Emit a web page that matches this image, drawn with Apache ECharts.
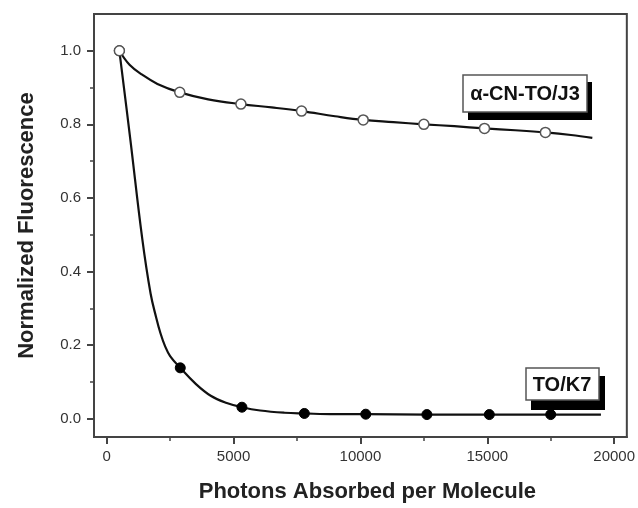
<!DOCTYPE html>
<html><head><meta charset="utf-8">
<script src="https://cdn.jsdelivr.net/npm/echarts@6/dist/echarts.min.js"></script>
<style>html,body{margin:0;padding:0;background:#fff}#c{width:638px;height:508px}</style>
</head><body><div id="c"></div>
<script>
// Measured points
const j3X = [500, 2880, 5290, 7680, 10110, 12500, 14890, 17290];
const j3Y = [1.0, 0.887, 0.855, 0.836, 0.812, 0.800, 0.789, 0.778];
const k7X = [500, 2900, 5330, 7790, 10210, 12620, 15080, 17500];
const k7Y = [1.0, 0.138, 0.031, 0.014, 0.012, 0.011, 0.011, 0.011];
// Fitted curves
const j3FitX = [500, 900, 1400, 2000, 2880, 4000, 5290, 6500, 7680, 9000, 10110, 11300, 12500, 13700, 14890, 16100, 17290, 18300, 19140];
const j3FitY = [1.0, 0.962, 0.935, 0.91, 0.887, 0.868, 0.855, 0.846, 0.836, 0.822, 0.812, 0.806, 0.800, 0.795, 0.789, 0.784, 0.778, 0.771, 0.763];
const k7FitX = [500, 930, 1400, 1730, 1950, 2120, 2300, 2500, 2900, 3500, 4100, 4700, 5330, 6050, 7000, 7790, 9000, 10210, 12620, 15080, 17500, 19480];
const k7FitY = [1.0, 0.76, 0.49, 0.34, 0.275, 0.232, 0.197, 0.17, 0.138, 0.095, 0.062, 0.043, 0.031, 0.022, 0.016, 0.014, 0.012, 0.012, 0.011, 0.011, 0.011, 0.011];
const xMajor = [0, 5000, 10000, 15000, 20000];
const xMinor = [2500, 7500, 12500, 17500];
const yMajor = [0, 0.2, 0.4, 0.6, 0.8, 1.0];
const yMinor = [0.1, 0.3, 0.5, 0.7, 0.9];
const labelJ3 = 'α-CN-TO/J3';
const labelK7 = 'TO/K7';

const zip = (a, b) => a.map((v, i) => [v, b[i]]);
const axisCol = '#444';
const chart = echarts.init(document.getElementById('c'));
const xBase = {type: 'value', min: -500, max: 20500, gridIndex: 0, splitLine: {show: false}};
const yBase = {type: 'value', min: -0.05, max: 1.1, gridIndex: 0, splitLine: {show: false}};
const tickFont = {fontFamily: 'Liberation Sans', fontSize: 15, color: '#333'};
chart.setOption({
  animation: false,
  backgroundColor: '#fff',
  grid: {left: 94, top: 14, right: 10, bottom: 65, show: true, borderColor: axisCol, borderWidth: 2, backgroundColor: 'transparent'},
  xAxis: [
    Object.assign({}, xBase, {
      position: 'bottom',
      name: 'Photons Absorbed per Molecule', nameLocation: 'middle', nameGap: 44,
      nameTextStyle: {fontFamily: 'Liberation Sans', fontWeight: 'bold', fontSize: 22, color: '#222', padding: [0, 0, 0, 14]},
      axisLine: {show: true, onZero: false, lineStyle: {color: axisCol, width: 2}},
      axisTick: {show: true, customValues: xMajor, length: 7, inside: false, lineStyle: {color: axisCol, width: 2}},
      axisLabel: Object.assign({customValues: xMajor, margin: 12, formatter: v => String(v)}, tickFont)
    }),
    Object.assign({}, xBase, {
      position: 'bottom',
      axisLine: {show: false, onZero: false},
      axisTick: {show: true, customValues: xMinor, length: 4, lineStyle: {color: axisCol, width: 1.5}},
      axisLabel: {show: false}
    })
  ],
  yAxis: [
    Object.assign({}, yBase, {
      position: 'left',
      name: 'Normalized Fluorescence', nameLocation: 'middle', nameGap: 56,
      nameTextStyle: {fontFamily: 'Liberation Sans', fontWeight: 'bold', fontSize: 22, color: '#222'},
      axisLine: {show: true, onZero: false, lineStyle: {color: axisCol, width: 2}},
      axisTick: {show: true, customValues: yMajor, length: 7, lineStyle: {color: axisCol, width: 2}},
      axisLabel: Object.assign({customValues: yMajor, margin: 13, formatter: v => v.toFixed(1)}, tickFont)
    }),
    Object.assign({}, yBase, {
      position: 'left',
      axisLine: {show: false, onZero: false},
      axisTick: {show: true, customValues: yMinor, length: 4, lineStyle: {color: axisCol, width: 1.5}},
      axisLabel: {show: false}
    })
  ],
  series: [
    {type: 'line', data: zip(k7FitX, k7FitY), smooth: 0.4, showSymbol: false,
      lineStyle: {color: '#111', width: 2.2}, z: 2},
    {type: 'line', data: zip(j3FitX, j3FitY), smooth: 0.4, showSymbol: false,
      lineStyle: {color: '#111', width: 2.2}, z: 2},
    {type: 'scatter', data: zip(k7X, k7Y), symbol: 'circle', symbolSize: 10,
      itemStyle: {color: '#000', borderColor: '#000', borderWidth: 1, opacity: 1}, z: 3},
    {type: 'scatter', data: zip(j3X, j3Y), symbol: 'circle', symbolSize: 10,
      itemStyle: {color: '#fff', borderColor: '#555', borderWidth: 1.5, opacity: 1}, z: 4}
  ],
  graphic: [
    {type: 'rect', shape: {x: 468, y: 82, width: 124, height: 38}, style: {fill: '#000'}, z: 10},
    {type: 'rect', shape: {x: 463, y: 75, width: 124, height: 37}, style: {fill: '#fff', stroke: '#555', lineWidth: 1.5}, z: 11},
    {type: 'text', x: 525, y: 94, style: {text: labelJ3, font: 'bold 20px "Liberation Sans"', fill: '#111', align: 'center', verticalAlign: 'middle'}, z: 12},
    {type: 'rect', shape: {x: 531, y: 376, width: 74, height: 34}, style: {fill: '#000'}, z: 10},
    {type: 'rect', shape: {x: 526, y: 368, width: 73, height: 32}, style: {fill: '#fff', stroke: '#555', lineWidth: 1.5}, z: 11},
    {type: 'text', x: 562, y: 385, style: {text: labelK7, font: 'bold 20px "Liberation Sans"', fill: '#111', align: 'center', verticalAlign: 'middle'}, z: 12}
  ]
});
</script></body></html>
